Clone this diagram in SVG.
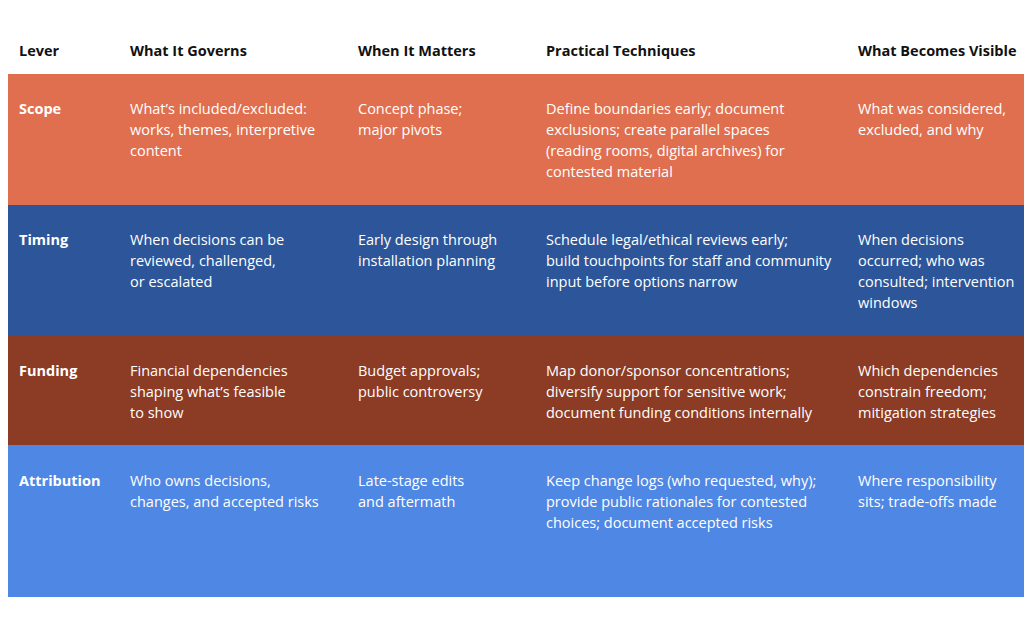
<svg xmlns="http://www.w3.org/2000/svg" width="1024" height="623" viewBox="0 0 1024 623">
<style>
text{font-family:"Open Sans","Noto Sans",sans-serif;font-size:14.5px;fill:#fff}
.h{fill:#111;font-weight:bold}
.b{font-weight:bold}
</style>
<rect width="1024" height="623" fill="#fff"/>
<g id="header">
<text class="h" x="19" y="56">Lever</text>
<text class="h" x="130" y="56">What It Governs</text>
<text class="h" x="358" y="56">When It Matters</text>
<text class="h" x="546" y="56">Practical Techniques</text>
<text class="h" x="858" y="56">What Becomes Visible</text>
</g>
<g id="scope">
<rect x="8" y="74" width="1016" height="131" fill="#DF6F4F"/>
<text class="b" x="19" y="114">Scope</text>
<text x="130" y="114">What’s included/excluded:</text><text x="130" y="135">works, themes, interpretive</text><text x="130" y="156">content</text>
<text x="358" y="114">Concept phase;</text><text x="358" y="135">major pivots</text>
<text x="546" y="114">Define boundaries early; document</text><text x="546" y="135">exclusions; create parallel spaces</text><text x="546" y="156">(reading rooms, digital archives) for</text><text x="546" y="177">contested material</text>
<text x="858" y="114">What was considered,</text><text x="858" y="135">excluded, and why</text>
</g>
<g id="timing">
<rect x="8" y="205" width="1016" height="130" fill="#2C5699"/>
<text class="b" x="19" y="245">Timing</text>
<text x="130" y="245">When decisions can be</text><text x="130" y="266">reviewed, challenged,</text><text x="130" y="287">or escalated</text>
<text x="358" y="245">Early design through</text><text x="358" y="266">installation planning</text>
<text x="546" y="245">Schedule legal/ethical reviews early;</text><text x="546" y="266">build touchpoints for staff and community</text><text x="546" y="287">input before options narrow</text>
<text x="858" y="245">When decisions</text><text x="858" y="266">occurred; who was</text><text x="858" y="287">consulted; intervention</text><text x="858" y="308">windows</text>
</g>
<g id="funding">
<rect x="8" y="335" width="1016" height="110" fill="#8C3B25"/>
<text class="b" x="19" y="376">Funding</text>
<text x="130" y="376">Financial dependencies</text><text x="130" y="397">shaping what’s feasible</text><text x="130" y="418">to show</text>
<text x="358" y="376">Budget approvals;</text><text x="358" y="397">public controversy</text>
<text x="546" y="376">Map donor/sponsor concentrations;</text><text x="546" y="397">diversify support for sensitive work;</text><text x="546" y="418">document funding conditions internally</text>
<text x="858" y="376">Which dependencies</text><text x="858" y="397">constrain freedom;</text><text x="858" y="418">mitigation strategies</text>
</g>
<g id="attribution">
<rect x="8" y="445" width="1016" height="152" fill="#4F87E4"/>
<text class="b" x="19" y="486">Attribution</text>
<text x="130" y="486">Who owns decisions,</text><text x="130" y="507">changes, and accepted risks</text>
<text x="358" y="486">Late-stage edits</text><text x="358" y="507">and aftermath</text>
<text x="546" y="486">Keep change logs (who requested, why);</text><text x="546" y="507">provide public rationales for contested</text><text x="546" y="528">choices; document accepted risks</text>
<text x="858" y="486">Where responsibility</text><text x="858" y="507">sits; trade-offs made</text>
</g>
<g id="connectors"/>
</svg>
